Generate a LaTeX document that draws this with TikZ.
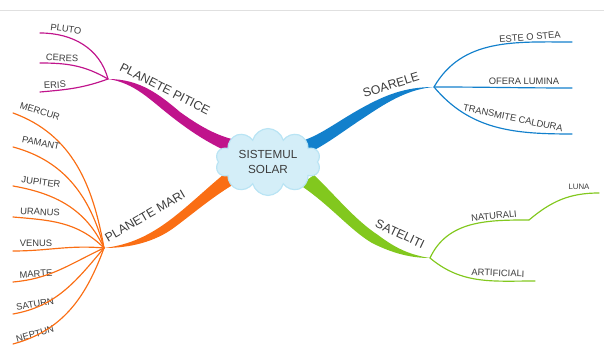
\documentclass[tikz,border=0pt]{standalone}
\usepackage{fontspec}
\setmainfont{Liberation Sans}
\usetikzlibrary{shapes.symbols}
\definecolor{pitic}{RGB}{192,20,140}
\definecolor{soare}{RGB}{18,128,204}
\definecolor{mare}{RGB}{250,110,20}
\definecolor{satel}{RGB}{130,200,30}
\definecolor{nor}{RGB}{212,238,248}
\definecolor{norcontur}{RGB}{185,228,244}
\definecolor{scris}{RGB}{60,60,60}
\begin{document}
\begin{tikzpicture}[x=0.03cm, y=0.03cm, line cap = round,
		leaf/.style = {inner sep=0, text=scris, font=\fontsize{8}{9.6}\selectfont},
		ramura/.style = {inner sep=0, text=scris, font=\fontsize{10.5}{12}\selectfont},
		fir/.style = {line width=1pt}]
				\useasboundingbox (0,0) rectangle (604,345);
				\draw[black!12, line width=0.6pt] (0,335) -- (604,335);
				% hubs
				\coordinate (pp) at (108,266);
				\coordinate (po) at (104,97);
				\coordinate (ps) at (434,258);
				\coordinate (pg) at (430,87);
				% thick branches
				\fill[pitic] (pp) .. controls (140,266) and (160,250) .. (180,233) .. controls (205,215) and (222,207) .. (245,203) -- (236,190) .. controls (215,198) and (195,210) .. (172,228) .. controls (150,245) and (135,262) .. (pp);
				\fill[soare] (ps) .. controls (405,258) and (385,250) .. (360,236) .. controls (335,222) and (318,208) .. (298,203) -- (298,188) .. controls (320,195) and (340,212) .. (365,228) .. controls (390,245) and (410,256) .. (ps);
				\fill[mare] (po) .. controls (130,100) and (150,110) .. (170,125) .. controls (190,140) and (210,160) .. (228,174) -- (236,162) .. controls (215,150) and (195,133) .. (175,118) .. controls (155,103) and (130,97) .. (po);
				\fill[satel] (314,170) .. controls (335,150) and (355,125) .. (378,110) .. controls (395,97) and (410,90) .. (pg) .. controls (410,87) and (392,92) .. (372,102) .. controls (350,115) and (330,140) .. (300,160) -- cycle;
				% centre
				\node[cloud, cloud puffs=10, aspect=2, minimum width=3.15cm, minimum height=1.6cm, fill=nor, draw=norcontur, line width=1pt, align=center, text=scris, font=\fontsize{10}{12}\selectfont] (sis) at (268,183) {SISTEMUL\\SOLAR};
				% branch labels
				\node[ramura, rotate=-27] (tpp) at (165,256) {PLANETE PITICE};
				\node[ramura, rotate=30] (tpo) at (145,129) {PLANETE MARI};
				\node[ramura, rotate=17] (tps) at (391,260) {SOARELE};
				\node[ramura, rotate=-25] (tpg) at (400,111) {SATELITI};
				% planete pitice
				\foreach \t/\lx/\ly/\r/\ey/\o/\i [count=\k] in {PLUTO/66/316/-8/312/105/0, CERES/62/287/-2/282/150/0, ERIS/55/260/3/253/200/5}{
					\coordinate (e\k) at (40,\ey);
					\node[leaf, rotate=\r] (pit\k) at (\lx,\ly) {\t};
					\draw[pitic, fir] (pp) to[out=\o, in=\i] (e\k);
				}
				% planete mari
				\foreach \t/\lx/\ly/\r/\ey/\o/\i [count=\k] in {MERCUR/40/234/-17/232/100/-20, PAMANT/41/202/-12/198/105/-15, JUPITER/41/163/-8/159/115/-10, URANUS/40/133/-3/128/135/-5, VENUS/36/102/0/94/175/0, MARTE/36/71/4/63/205/5, SATURN/35/41/10/31/230/10, NEPTUN/35/11/15/1/250/15}{
					\coordinate (m\k) at (13,\ey);
					\node[leaf, rotate=\r] (mar\k) at (\lx,\ly) {\t};
					\draw[mare, fir] (po) to[out=\o, in=\i] (m\k);
				}
				% soarele
				\foreach \t/\lx/\ly/\r/\ey/\o [count=\k] in {ESTE O STEA/530/308/5/303/60, OFERA LUMINA/524/264/0/257/0, TRANSMITE CALDURA/513/227/-12/211/-50}{
					\coordinate (s\k) at (572,\ey);
					\node[leaf, rotate=\r] (soa\k) at (\lx,\ly) {\t};
					\draw[soare, fir] (ps) to[out=\o, in=180] (s\k);
				}
				% sateliti
				\coordinate (nat) at (529,125);
				\coordinate (lun) at (599,152);
				\coordinate (art) at (535,64);
				\node[leaf, rotate=6] (tnat) at (494,129) {NATURALI};
				\node[leaf, rotate=-2] (tart) at (498,72) {ARTIFICIALI};
				\node[inner sep=0, text=scris, font=\fontsize{6.7}{8}\selectfont] (tlun) at (579,158) {LUNA};
				\draw[satel, fir] (pg) to[out=65, in=180] (nat);
				\draw[satel, fir] (nat) to[out=40, in=180] (lun);
				\draw[satel, fir] (pg) to[out=-40, in=180] (art);
			\end{tikzpicture}
\end{document}
